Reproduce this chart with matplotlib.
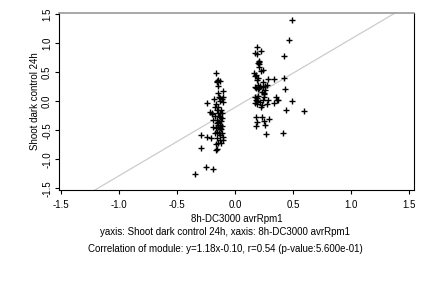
import matplotlib
matplotlib.use("Agg")
import matplotlib.pyplot as plt
import numpy as np

plt.rcParams['font.family'] = ['Liberation Sans', 'DejaVu Sans']

# left cluster (8h-DC3000 avrRpm1 vs Shoot dark control 24h)
x_left = [-0.169, -0.158, -0.146, -0.132, -0.152, -0.109, -0.146, -0.132, -0.184, -0.118,
          -0.109, -0.241, -0.218, -0.198, -0.175, -0.161, -0.146, -0.132, -0.118, -0.189,
          -0.161, -0.146, -0.132, -0.118, -0.189, -0.167, -0.146, -0.132, -0.118, -0.175,
          -0.161, -0.132, -0.118, -0.299, -0.241, -0.207, -0.161, -0.109, -0.109, -0.132,
          -0.146, -0.167, -0.293, -0.169, -0.155, -0.253, -0.189, -0.345, -0.150, -0.140,
          -0.155, -0.125, -0.135, -0.150, -0.120, -0.145, -0.165, -0.130, -0.175, -0.200,
          -0.125, -0.140, -0.110, -0.160, -0.125]
y_left = [0.494, 0.351, 0.368, 0.351, 0.264, 0.184, 0.138, 0.063, 0.034, 0.040,
          -0.006, -0.023, -0.178, -0.207, -0.092, -0.149, -0.207, -0.195, -0.207, -0.322,
          -0.322, -0.351, -0.264, -0.293, -0.437, -0.466, -0.408, -0.466, -0.425, -0.552,
          -0.523, -0.580, -0.552, -0.580, -0.621, -0.626, -0.638, -0.609, -0.667, -0.667,
          -0.724, -0.736, -0.805, -0.839, -0.828, -1.126, -1.167, -1.247, -0.100, -0.250,
          -0.380, -0.330, -0.400, -0.450, -0.480, 0.080, -0.050, 0.000, -0.250, -0.220,
          -0.150, -0.550, 0.070, 0.330, -0.720]

# right cluster
x_right = [0.184, 0.169, 0.189, 0.218, 0.201, 0.207, 0.192, 0.207, 0.161, 0.178,
           0.169, 0.224, 0.241, 0.184, 0.198, 0.235, 0.284, 0.336, 0.198, 0.212,
           0.241, 0.256, 0.270, 0.178, 0.192, 0.207, 0.227, 0.244, 0.258, 0.169,
           0.184, 0.198, 0.178, 0.212, 0.241, 0.247, 0.169, 0.189, 0.233, 0.270,
           0.284, 0.350, 0.362, 0.333, 0.370, 0.224, 0.178, 0.227, 0.184, 0.250,
           0.293, 0.178, 0.256, 0.264, 0.413, 0.436, 0.591, 0.485, 0.428, 0.422,
           0.422, 0.462, 0.488, 0.250, 0.190, 0.170, 0.200]
y_right = [0.943, 0.828, 0.816, 0.868, 0.684, 0.644, 0.667, 0.598, 0.483, 0.454,
           0.437, 0.529, 0.540, 0.368, 0.397, 0.339, 0.385, 0.385, 0.282, 0.264,
           0.241, 0.264, 0.282, 0.224, 0.207, 0.224, 0.167, 0.138, 0.195, 0.080,
           0.052, 0.092, 0.023, -0.006, 0.023, 0.080, -0.034, -0.052, -0.063, -0.046,
           0.023, 0.080, 0.023, -0.034, 0.023, -0.092, -0.264, -0.264, -0.351, -0.333,
           -0.305, -0.425, -0.408, -0.569, -0.540, -0.149, -0.167, 0.011, 0.207, 0.408,
           0.782, 1.052, 1.402, 0.120, 0.000, 0.250, 0.690]

slope, intercept = 1.18, -0.10
ticks = [-1.5, -1.0, -0.5, 0.0, 0.5, 1.0, 1.5]
tick_labels = ['-1.5', '-1.0', '-0.5', '0.0', '0.5', '1.0', '1.5']

xs = np.array(x_left + x_right)
ys = np.array(y_left + y_right)

fig = plt.figure(figsize=(4.32, 2.88), dpi=100)
ax = fig.add_axes([0.1366, 0.34, 0.8218, 0.616])

# regression line
lx = np.array([-2.0, 2.0])
ax.plot(lx, slope * lx + intercept, color='#cccccc', linewidth=0.9, zorder=1)

ax.plot(xs, ys, linestyle='none', marker='+', color='black',
        markersize=4.5, markeredgewidth=1.0, zorder=2)

ax.set_xlim(-1.52, 1.54)
ax.set_ylim(-1.53, 1.53)
ax.set_xticks(ticks)
ax.set_xticklabels(tick_labels)
ax.set_yticks(ticks)
ax.set_yticklabels(tick_labels, rotation=90, va='center')
ax.tick_params(direction='out', length=3, width=0.8, labelsize=7, pad=4)
ax.tick_params(axis='y', pad=2)

ax.spines['top'].set_color('#999999')
ax.spines['top'].set_linewidth(1.2)
for s in ['left', 'right', 'bottom']:
    ax.spines[s].set_linewidth(0.8)

ax.set_xlabel('8h-DC3000 avrRpm1', fontsize=7, labelpad=3)
ax.set_ylabel('Shoot dark control 24h', fontsize=7, labelpad=1.5)

fig.text(225 / 432, 1 - 232 / 288, 'yaxis: Shoot dark control 24h, xaxis: 8h-DC3000 avrRpm1',
         ha='center', va='center', fontsize=7)
fig.text(225 / 432, 1 - 249 / 288, 'Correlation of module: y=1.18x-0.10, r=0.54 (p-value:5.600e-01)',
         ha='center', va='center', fontsize=7)

fig.savefig('out.png', dpi=100)
